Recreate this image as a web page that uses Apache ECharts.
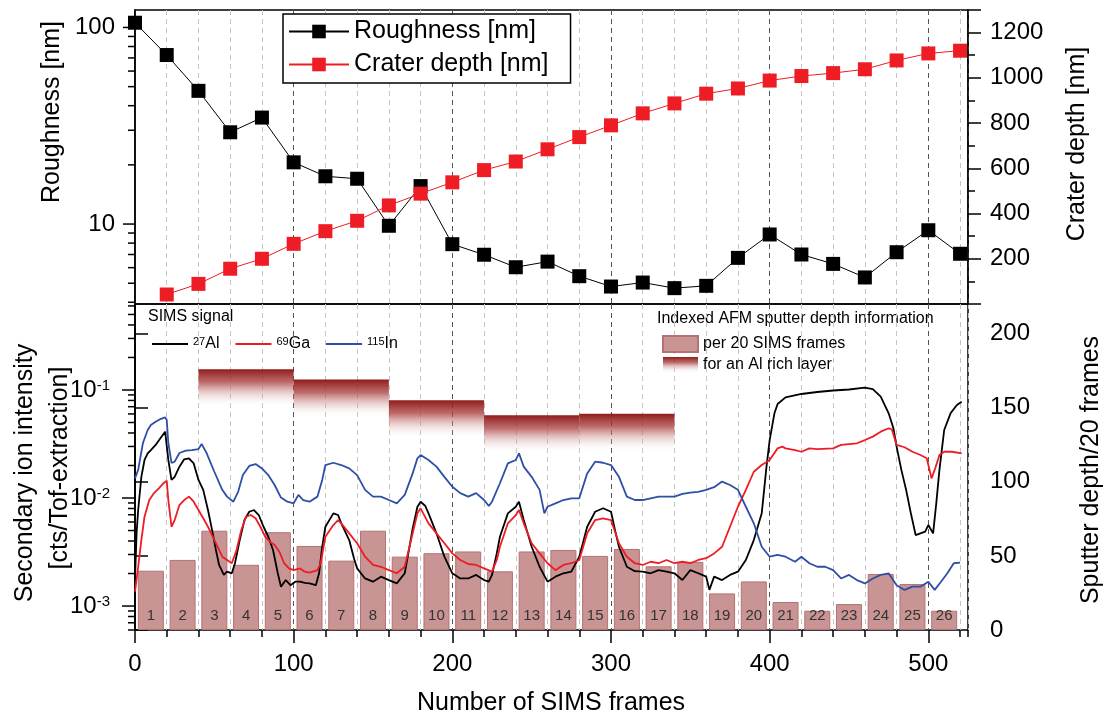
<!DOCTYPE html>
<html><head><meta charset="utf-8">
<script src="https://cdn.jsdelivr.net/npm/echarts@6/dist/echarts.min.js"></script>
<style>html,body{margin:0;padding:0;background:#fff}#c{width:1110px;height:717px}</style>
</head><body><div id="c"></div>
<script>
// ---------- data ----------
const roughFrames = [0,20,40,60,80,100,120,140,160,180,200,220,240,260,280,300,320,340,360,380,400,420,440,460,480,500,520];
const roughness = [105.7,72.4,47.6,29.3,34.8,20.6,17.5,17.0,9.8,15.6,7.9,6.98,6.03,6.44,5.43,4.81,5.04,4.72,4.85,6.73,8.85,7.0,6.27,5.35,7.19,9.3,7.06];
const craterFrames = [20,40,60,80,100,120,140,160,180,200,220,240,260,280,300,320,340,360,380,400,420,440,460,480,500,520];
const craterDepth = [42,89,156,200,266,322,368,436,488,538,592,630,684,738,790,843,887,930,953,988,1008,1021,1038,1077,1108,1120];

const barCenters = [10,30,50,70,90,110,130,150,170,190,210,230,250,270,290,310,330,350,370,390,410,430,450,470,490,510];
const barDepth = [40,47.3,67,44,66,56.7,46.8,67,49.5,51.8,53,39.6,53,54,50,54.7,43,46,24.7,32.8,18.9,13,17.5,37.8,31,13];
const barLabels = ['1','2','3','4','5','6','7','8','9','10','11','12','13','14','15','16','17','18','19','20','21','22','23','24','25','26'];

const layerStart = [40,100,160,220,280];
const layerEnd = [100,160,220,280,340];
const layerTop = [176,169,155,145,146];

const inFrames = [0,2,5,8,10,13,16,19,20,21,23,25,28,32,36,40,42,45,50,55,58,62,65,68,72,76,80,84,88,92,96,100,103,106,110,115,118,120,125,130,135,140,145,150,155,160,165,170,175,178,180,185,190,195,200,205,210,215,220,223,225,230,235,240,242,245,250,255,258,260,265,270,275,280,285,290,295,300,305,310,315,320,325,330,335,340,345,350,355,360,365,370,375,380,385,390,395,400,405,410,416,420,425,430,435,440,445,450,455,460,465,470,475,480,485,490,495,500,504,508,512,516,520];
const inVals = [15.2e-3,18.2e-3,32.3e-3,42.6e-3,47.4e-3,50.8e-3,53.8e-3,55.8e-3,52.7e-3,32.3e-3,21.1e-3,21.7e-3,26.1e-3,27.4e-3,27.8e-3,28.4e-3,31.6e-3,26.3e-3,17.5e-3,11.9e-3,10.3e-3,9.24e-3,11.4e-3,16.3e-3,19.8e-3,20.6e-3,18.8e-3,16.3e-3,13.2e-3,10.1e-3,9.24e-3,8.93e-3,10.7e-3,9.58e-3,9.24e-3,10.3e-3,14.7e-3,20.2e-3,21.2e-3,20.2e-3,18.8e-3,16.3e-3,11.9e-3,10.3e-3,10.3e-3,9.58e-3,8.93e-3,10.7e-3,16.9e-3,23.3e-3,25.0e-3,22.5e-3,19.5e-3,15.7e-3,12.7e-3,11.1e-3,10.3e-3,11.1e-3,9.58e-3,8.43e-3,9.24e-3,13.7e-3,20.9e-3,22.5e-3,25.9e-3,19.5e-3,15.7e-3,11.9e-3,7.21e-3,8.3e-3,8.93e-3,9.58e-3,9.94e-3,9.94e-3,16.9e-3,21.7e-3,21.2e-3,20.2e-3,15.7e-3,10.3e-3,9.58e-3,9.58e-3,9.94e-3,10.3e-3,10.3e-3,10.3e-3,10.9e-3,11.2e-3,11.4e-3,11.9e-3,12.6e-3,14.2e-3,13.2e-3,11.9e-3,8.3e-3,5.83e-3,3.54e-3,2.86e-3,2.97e-3,2.86e-3,2.57e-3,2.86e-3,2.49e-3,2.31e-3,2.31e-3,2.15e-3,1.80e-3,1.94e-3,1.74e-3,1.62e-3,1.80e-3,1.94e-3,2.01e-3,1.56e-3,1.41e-3,1.51e-3,1.51e-3,1.68e-3,1.41e-3,1.68e-3,2.01e-3,2.49e-3,2.52e-3];

const alFrames = [0,1,2,4,6,8,10,13,16,19,20,21,23,25,28,31,34,37,40,43,46,49,51,53,56,58,61,63,66,69,72,75,78,81,84,87,90,92,95,98,101,104,107,110,114,116,118,120,125,128,130,135,138,140,145,150,155,160,165,170,173,175,178,180,183,185,190,195,200,205,210,215,220,223,225,228,230,235,240,242,245,250,255,260,265,270,275,280,285,290,295,300,303,305,310,315,320,325,330,335,340,345,350,355,360,362,365,370,375,380,385,390,395,398,400,403,405,410,420,430,440,450,460,465,470,475,478,480,483,486,489,492,495,498,500,503,505,507,510,514,518,521];
const alVals = [1.74e-3,4.74e-3,7.74e-3,15.7e-3,22.5e-3,25.9e-3,27.8e-3,31.0e-3,35.7e-3,41.1e-3,40.0e-3,22.5e-3,14.7e-3,15.7e-3,19.5e-3,22.8e-3,23.3e-3,20.9e-3,14.7e-3,11.9e-3,7.74e-3,4.71e-3,3.30e-3,2.40e-3,1.94e-3,2.08e-3,2.01e-3,2.49e-3,4.08e-3,6.25e-3,7.46e-3,7.74e-3,6.96e-3,5.42e-3,4.38e-3,3.30e-3,2.01e-3,1.51e-3,1.74e-3,1.56e-3,1.68e-3,1.68e-3,1.64e-3,1.62e-3,1.56e-3,2.01e-3,3.54e-3,5.42e-3,7.21e-3,6.96e-3,5.83e-3,4.08e-3,2.77e-3,2.23e-3,1.80e-3,1.68e-3,1.87e-3,1.74e-3,1.62e-3,2.01e-3,3.54e-3,5.24e-3,8.3e-3,9.24e-3,8.43e-3,7.21e-3,4.71e-3,2.86e-3,2.01e-3,1.80e-3,1.8e-3,1.94e-3,1.74e-3,1.68e-3,1.94e-3,3.07e-3,4.38e-3,7.21e-3,8.3e-3,9.24e-3,6.25e-3,3.54e-3,2.31e-3,1.68e-3,1.87e-3,2.01e-3,2.08e-3,2.86e-3,5.42e-3,7.46e-3,8.03e-3,7.46e-3,4.71e-3,3.54e-3,2.31e-3,2.1e-3,2.08e-3,2.01e-3,2.15e-3,2.08e-3,2.01e-3,1.74e-3,2.15e-3,2.01e-3,1.87e-3,1.41e-3,1.87e-3,1.74e-3,1.94e-3,2.08e-3,2.67e-3,4.08e-3,7.21e-3,19.5e-3,34.4e-3,60.8e-3,74.1e-3,85.5e-3,91.8e-3,95.8e-3,98.9e-3,101e-3,105e-3,102e-3,86.7e-3,60.8e-3,44.2e-3,29.9e-3,18.2e-3,11.9e-3,7.21e-3,4.54e-3,4.71e-3,4.88e-3,5.62e-3,4.71e-3,8.93e-3,18.2e-3,42.6e-3,60.8e-3,72.6e-3,77.9e-3];

const gaFrames = [0,2,4,6,9,12,15,18,20,21,23,25,28,31,34,37,40,43,46,49,52,55,58,61,64,67,70,73,76,79,82,85,88,91,94,97,100,104,107,110,115,117,120,125,128,130,135,140,145,150,155,160,165,170,173,175,178,180,185,190,195,200,205,210,215,220,225,228,230,235,240,242,245,250,255,260,265,270,275,280,285,290,295,300,305,310,315,320,325,330,335,340,345,350,355,360,365,370,375,380,385,390,395,400,405,408,410,416,420,425,430,440,445,450,455,460,465,470,475,477,480,485,490,495,499,502,504,507,510,515,521];
const gaVals = [1.36e-3,2.31e-3,4.08e-3,6.71e-3,9.58e-3,11.1e-3,12.3e-3,13.7e-3,14.5e-3,9.58e-3,5.42e-3,6.25e-3,8.61e-3,9.58e-3,10.3e-3,9.24e-3,7.74e-3,6.49e-3,5.42e-3,4.38e-3,3.54e-3,2.86e-3,2.67e-3,2.49e-3,3.30e-3,5.06e-3,6.71e-3,6.96e-3,6.49e-3,5.42e-3,4.38e-3,3.94e-3,3.67e-3,3.18e-3,2.49e-3,2.23e-3,2.15e-3,2.23e-3,2.08e-3,2.04e-3,2.15e-3,2.49e-3,4.38e-3,5.62e-3,6.25e-3,5.83e-3,4.71e-3,3.81e-3,2.86e-3,2.40e-3,2.31e-3,2.15e-3,2.01e-3,2.31e-3,3.54e-3,4.71e-3,7.21e-3,8.03e-3,5.83e-3,4.71e-3,3.81e-3,3.07e-3,2.67e-3,2.45e-3,2.40e-3,2.23e-3,2.08e-3,2.67e-3,3.54e-3,5.83e-3,6.96e-3,7.74e-3,5.83e-3,3.81e-3,3.07e-3,2.49e-3,2.15e-3,2.40e-3,2.49e-3,2.67e-3,4.71e-3,6.25e-3,6.49e-3,6.25e-3,3.81e-3,2.86e-3,2.49e-3,2.40e-3,2.57e-3,2.49e-3,2.67e-3,2.49e-3,2.57e-3,2.49e-3,2.67e-3,2.77e-3,3.07e-3,3.54e-3,5.42e-3,8.3e-3,11.9e-3,17.5e-3,20.2e-3,22.5e-3,28.8e-3,29.9e-3,28.8e-3,27.8e-3,26.8e-3,28.8e-3,28.4e-3,28.8e-3,31.0e-3,31.6e-3,32.1e-3,34.4e-3,37.0e-3,41.1e-3,44.2e-3,43.3e-3,31.0e-3,29.5e-3,26.8e-3,25.0e-3,23.3e-3,15.2e-3,18.2e-3,25.0e-3,26.8e-3,26.8e-3,25.9e-3];

// tick values
const roughMajorTicks = [10,100];
const simsMajorTicks = [1e-3,1e-2,1e-1];

// ---------- chart ----------
const FONT = '"Liberation Sans", Arial, sans-serif';
const BLACK = '#000';
const RED = '#ee1c24';
const BLUE = '#2e4fa5';
const gridColors = ['#555','#c4c4c4','#c4c4c4','#c4c4c4','#c4c4c4'];
const axisLine = {show:true, lineStyle:{color:BLACK, width:1.5}};
const isPow = v => Math.abs(Math.log10(v) - Math.round(Math.log10(v))) < 1e-6;

function minorLogTicks(min, max){
  const out = [];
  for (let e = Math.floor(Math.log10(min)); e <= Math.ceil(Math.log10(max)); e++){
    for (let m = 2; m <= 9; m++){ const v = m*Math.pow(10,e); if (v > min && v < max) out.push(v); }
  }
  return out;
}
function tickSeries(xi, yi, values, len){
  return {type:'custom', xAxisIndex:xi, yAxisIndex:yi, clip:false, silent:true, z:10,
    data: values.map(v=>[0,v]), encode:{x:0,y:1},
    renderItem:(p,api)=>{ const c = api.coord([0, api.value(1)]);
      return {type:'line', shape:{x1:c[0]-len, y1:c[1], x2:c[0], y2:c[1]}, style:{stroke:BLACK, lineWidth:1.5}}; }
  };
}
const roughRange = [3.92, 122.7];
const simsRange = [6.0e-4, 0.625];

const layerGradient = new echarts.graphic.LinearGradient(0,0,0,1,[
  {offset:0, color:'rgba(140,20,20,0.97)'},
  {offset:0.35, color:'rgba(170,60,60,0.75)'},
  {offset:1, color:'rgba(255,255,255,0)'}
]);

const xBase = {type:'value', min:0, max:525, axisLine:{show:false}, axisLabel:{show:false}, axisTick:{show:false}};
const splitDash = {show:true, lineStyle:{color:gridColors, type:[5,4], width:1}};

const option = {
  animation:false,
  textStyle:{fontFamily:FONT, color:BLACK},
  grid:[
    {left:135, top:10, width:833, height:294, show:true, borderColor:BLACK, borderWidth:1.5, backgroundColor:'transparent', outerBoundsMode:'none', containLabel:false},
    {left:135, top:304, width:833, height:326, show:true, borderColor:BLACK, borderWidth:1.5, backgroundColor:'transparent', outerBoundsMode:'none', containLabel:false}
  ],
  xAxis:[
    Object.assign({}, xBase, {gridIndex:0, interval:20, splitLine:splitDash}),
    Object.assign({}, xBase, {gridIndex:1, interval:20, position:'bottom', splitLine:splitDash,
      axisTick:{show:true, inside:false, length:7, lineStyle:{color:BLACK, width:1.5}}}),
    Object.assign({}, xBase, {gridIndex:1, interval:100, position:'bottom', splitLine:{show:false},
      axisTick:{show:true, inside:false, length:13, lineStyle:{color:BLACK, width:1.5}},
      axisLabel:{show:true, fontSize:24, color:BLACK, margin:22, showMaxLabel:false, fontFamily:FONT, formatter:v=>String(v)}})
  ],
  yAxis:[
    {gridIndex:0, type:'log', min:roughRange[0], max:roughRange[1], position:'left', axisLine, axisTick:{show:false}, splitLine:{show:false},
      axisLabel:{fontSize:24, color:BLACK, margin:20, fontFamily:FONT, formatter:v=> isPow(v) ? String(Math.round(v)) : ''}},
    {gridIndex:0, type:'value', min:0, max:1300, interval:200, position:'right', axisLine, splitLine:{show:false},
      axisTick:{show:true, inside:false, length:13, lineStyle:{color:BLACK, width:1.5}},
      minorTick:{show:true, splitNumber:2, length:7, lineStyle:{color:BLACK, width:1.5}},
      axisLabel:{fontSize:24, color:BLACK, margin:22, fontFamily:FONT, showMinLabel:false, showMaxLabel:false, formatter:v=>String(v)}},
    {gridIndex:1, type:'log', min:simsRange[0], max:simsRange[1], position:'left', axisLine, axisTick:{show:false}, splitLine:{show:false},
      axisLabel:{margin:25, formatter:v=> isPow(v) ? '{b|10}{s|' + Math.round(Math.log10(v)) + '}' : '',
        rich:{b:{fontSize:24, color:BLACK, fontFamily:FONT}, s:{fontSize:15, color:BLACK, fontFamily:FONT, verticalAlign:'top'}}}},
    {gridIndex:1, type:'value', min:0, max:220, interval:50, position:'right', axisLine, splitLine:{show:false},
      axisTick:{show:true, inside:false, length:13, lineStyle:{color:BLACK, width:1.5}},
      axisLabel:{fontSize:24, color:BLACK, margin:22, fontFamily:FONT, showMaxLabel:false, formatter:v=>String(v)}}
  ],
  legend:[
    {data:['Roughness [nm]','Crater depth [nm]'], left:283, top:14, orient:'vertical', itemWidth:60, itemHeight:17, itemGap:8,
      padding:[5,22,6,5], borderColor:BLACK, borderWidth:1.5, backgroundColor:'#fff', selectedMode:false,
      textStyle:{fontSize:25, color:BLACK, fontFamily:FONT}},
    {data:['27Al','69Ga','115In'], left:147, top:331, orient:'horizontal', icon:'rect', itemWidth:36, itemHeight:2, itemGap:16, selectedMode:false,
      formatter:n=>{ const m = n.match(/^(\d+)(.*)$/); return '{s|'+m[1]+'}{b|'+m[2]+'}'; },
      textStyle:{fontFamily:FONT, color:BLACK, rich:{s:{fontSize:11, verticalAlign:'top', color:BLACK}, b:{fontSize:16, color:BLACK}}}},
    {data:['per 20 SIMS frames','for an Al rich layer'], left:657, top:330, orient:'vertical', icon:'rect', itemWidth:35, itemHeight:16, itemGap:4, selectedMode:false,
      textStyle:{fontSize:16, color:BLACK, fontFamily:FONT}}
  ],
  graphic:[
    {type:'text', x:52, y:112, rotation:Math.PI/2, style:{text:'Roughness [nm]', fontSize:25, fontFamily:FONT, fill:BLACK, align:'center', verticalAlign:'middle'}},
    {type:'text', x:1077, y:144, rotation:Math.PI/2, style:{text:'Crater depth [nm]', fontSize:25, fontFamily:FONT, fill:BLACK, align:'center', verticalAlign:'middle'}},
    {type:'text', x:25, y:473, rotation:Math.PI/2, style:{text:'Secondary ion intensity', fontSize:25, fontFamily:FONT, fill:BLACK, align:'center', verticalAlign:'middle'}},
    {type:'text', x:60, y:468, rotation:Math.PI/2, style:{text:'[cts/Tof-extraction]', fontSize:25, fontFamily:FONT, fill:BLACK, align:'center', verticalAlign:'middle'}},
    {type:'text', x:1091, y:470, rotation:Math.PI/2, style:{text:'Sputter depth/20 frames', fontSize:25, fontFamily:FONT, fill:BLACK, align:'center', verticalAlign:'middle'}},
    {type:'text', x:551, y:703, style:{text:'Number of SIMS frames', fontSize:25, fontFamily:FONT, fill:BLACK, align:'center', verticalAlign:'middle'}},
    {type:'text', x:148, y:317, style:{text:'SIMS signal', fontSize:16, fontFamily:FONT, fill:BLACK, align:'left', verticalAlign:'middle'}},
    {type:'text', x:657, y:319, style:{text:'Indexed AFM sputter depth information', fontSize:16, fontFamily:FONT, fill:BLACK, align:'left', verticalAlign:'middle'}}
  ],
  series:[
    {name:'Roughness [nm]', type:'line', xAxisIndex:0, yAxisIndex:0, data:roughFrames.map((f,i)=>[f,roughness[i]]),
      symbol:'rect', symbolSize:14, lineStyle:{color:BLACK, width:1}, itemStyle:{color:BLACK}, z:3, clip:false},
    {name:'Crater depth [nm]', type:'line', xAxisIndex:0, yAxisIndex:1, data:craterFrames.map((f,i)=>[f,craterDepth[i]]),
      symbol:'rect', symbolSize:14, lineStyle:{color:RED, width:1}, itemStyle:{color:RED}, z:4},
    {name:'per 20 SIMS frames', type:'bar', xAxisIndex:1, yAxisIndex:3, data:barCenters.map((x,i)=>[x,barDepth[i]]), barWidth:26,
      itemStyle:{color:'#c89494', borderColor:'#b57272', borderWidth:1}, z:1,
      label:{show:true, position:'insideBottom', distance:7, fontSize:15, color:'#333', fontFamily:FONT, formatter:p=>barLabels[p.dataIndex]}},
    {name:'for an Al rich layer', type:'custom', xAxisIndex:1, yAxisIndex:3, z:2,
      data:layerStart.map((s,i)=>[s, layerEnd[i], layerTop[i]]), encode:{x:[0,1], y:2},
      itemStyle:{color:layerGradient},
      renderItem:(p,api)=>{ const a = api.coord([api.value(0), api.value(2)]); const b = api.coord([api.value(1), api.value(2)]);
        return {type:'rect', shape:{x:a[0], y:a[1], width:b[0]-a[0], height:38}, style:{fill:layerGradient}}; }},
    {name:'27Al', type:'line', xAxisIndex:1, yAxisIndex:2, data:alFrames.map((f,i)=>[f,alVals[i]]), symbol:'none', lineStyle:{color:BLACK, width:1.8}, itemStyle:{color:BLACK}, z:5},
    {name:'69Ga', type:'line', xAxisIndex:1, yAxisIndex:2, data:gaFrames.map((f,i)=>[f,gaVals[i]]), symbol:'none', lineStyle:{color:RED, width:1.8}, itemStyle:{color:RED}, z:5},
    {name:'115In', type:'line', xAxisIndex:1, yAxisIndex:2, data:inFrames.map((f,i)=>[f,inVals[i]]), symbol:'none', lineStyle:{color:BLUE, width:1.8}, itemStyle:{color:BLUE}, z:5},
    tickSeries(0, 0, roughMajorTicks, 12),
    tickSeries(0, 0, minorLogTicks(roughRange[0], roughRange[1]), 7),
    tickSeries(1, 2, simsMajorTicks, 13),
    tickSeries(1, 2, minorLogTicks(simsRange[0], simsRange[1]), 7)
  ]
};
const chart = echarts.init(document.getElementById('c'));
chart.setOption(option);
</script></body></html>
